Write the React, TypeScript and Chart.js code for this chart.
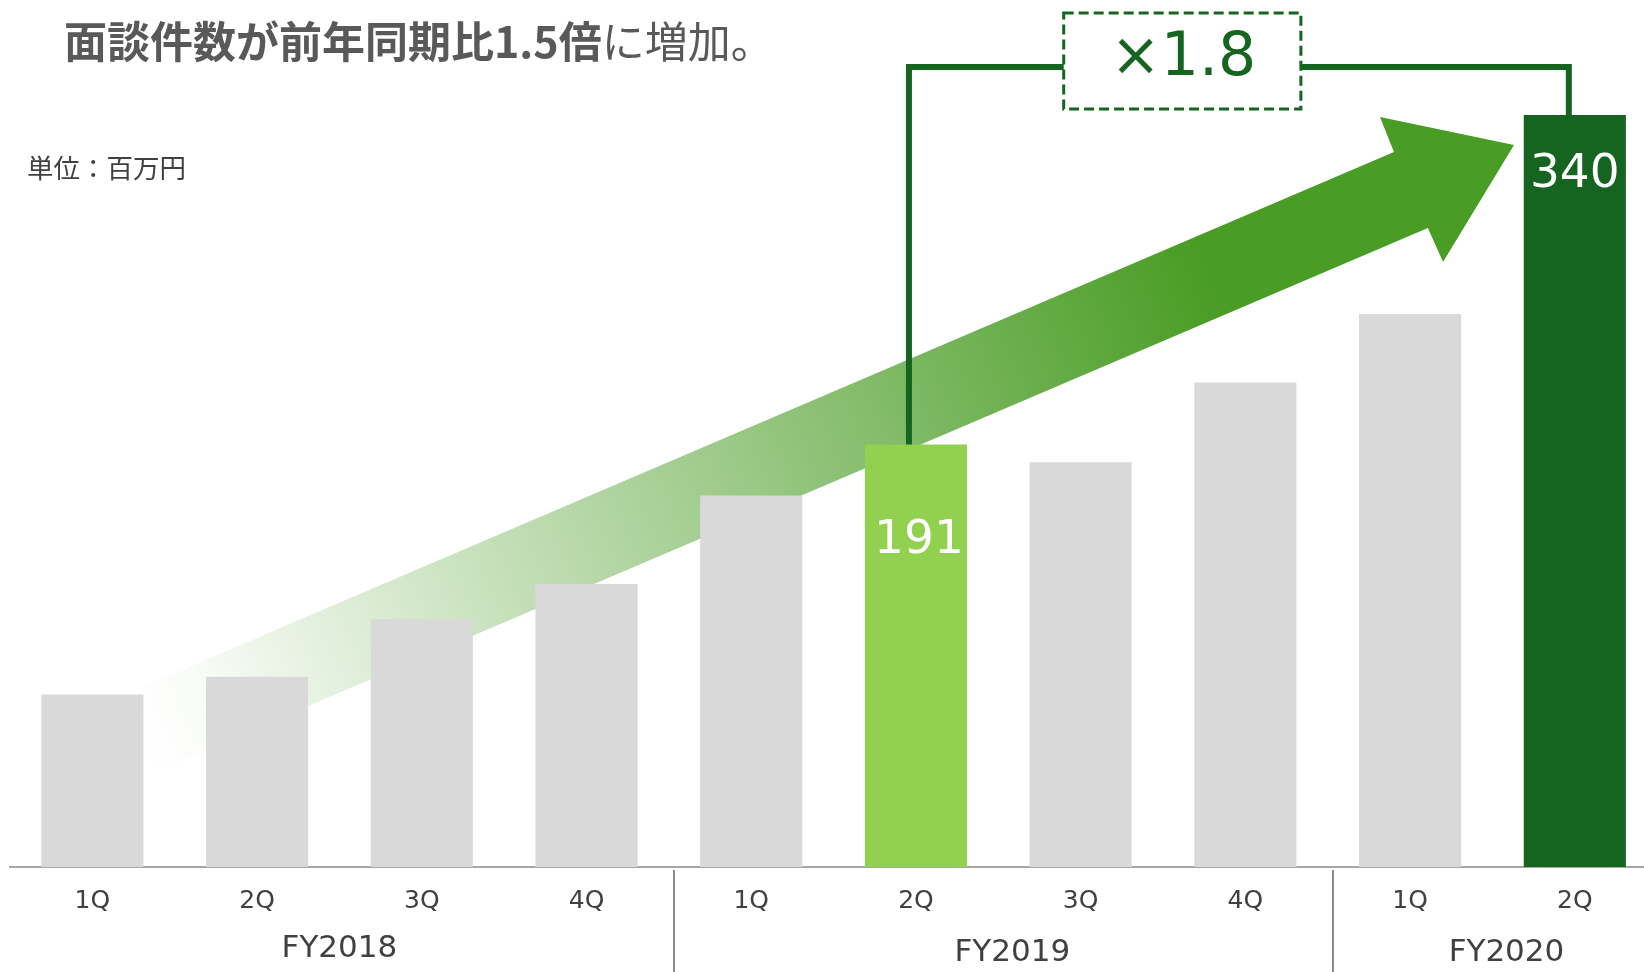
import React, { useEffect, useRef } from "react";
import { Chart, registerables } from "chart.js";

Chart.register(...registerables);

// ---- data ----
const quarters = ["1Q", "2Q", "3Q", "4Q", "1Q", "2Q", "3Q", "4Q", "1Q", "2Q"];
const fiscalYears = ["FY2018", "FY2019", "FY2020"];
const quartersPerYear = [4, 4, 2];
const values = [78, 86, 112, 128, 168, 191, 183, 219, 250, 340];
const compareFromIndex = 5; // FY2019 2Q
const compareToIndex = 9; // FY2020 2Q
const multiplierLabel = "×1.8";
const titleBold = "面談件数が前年同期比1.5倍";
const titleRest = "に増加。";
const unitLabel = "単位：百万円";

// ---- styles ----
const GREY = "#d9d9d9";
const LIGHT_GREEN = "#92d050";
const DARK_GREEN = "#156520";
const ARROW_RGB = "73,156,36";
const TEXT = "#404040";
const NUM_FONT = "'DejaVu Sans', Verdana, sans-serif";

// arrow outline in (x value, y value) space
const arrowShape: [number, number][] = [
  [0.259, 80.0],
  [7.902, 323.3],
  [7.817, 339.1],
  [8.631, 326.4],
  [8.2, 273.5],
  [8.108, 288.9],
  [0.259, 39.3],
];
const connectorLevel = 361.7;
const boxX: [number, number] = [5.897, 7.337];
const boxY: [number, number] = [342.7, 386.1];

const barColors = values.map((_, i) =>
  i === compareToIndex ? DARK_GREEN : i === compareFromIndex ? LIGHT_GREEN : GREY
);

const overlayPlugin = {
  id: "overlay",
  beforeDatasetsDraw(chart: any) {
    const { ctx } = chart;
    const xs = chart.scales.x;
    const ys = chart.scales.y;
    const pts = arrowShape.map(([vx, vy]) => [xs.getPixelForValue(vx), ys.getPixelForValue(vy)]);
    const tail = [(pts[0][0] + pts[6][0]) / 2, (pts[0][1] + pts[6][1]) / 2];
    const tip = pts[3];
    ctx.save();
    const g = ctx.createLinearGradient(tail[0], tail[1], tip[0], tip[1]);
    g.addColorStop(0, `rgba(${ARROW_RGB},0)`);
    g.addColorStop(0.05, `rgba(${ARROW_RGB},0.03)`);
    g.addColorStop(0.78, `rgba(${ARROW_RGB},1)`);
    g.addColorStop(1, `rgba(${ARROW_RGB},1)`);
    ctx.fillStyle = g;
    ctx.beginPath();
    pts.forEach(([px, py], i) => (i === 0 ? ctx.moveTo(px, py) : ctx.lineTo(px, py)));
    ctx.closePath();
    ctx.fill();
    ctx.restore();
  },
  afterDatasetsDraw(chart: any) {
    const { ctx } = chart;
    const xs = chart.scales.x;
    const ys = chart.scales.y;
    const c1 = xs.getPixelForValue(compareFromIndex);
    const c2 = xs.getPixelForValue(compareToIndex);
    const x1 = c1 - 7;
    const x2 = c2 - 6;
    const y1 = ys.getPixelForValue(values[compareFromIndex]);
    const y2 = ys.getPixelForValue(values[compareToIndex]);
    const yl = ys.getPixelForValue(connectorLevel);
    const bx0 = xs.getPixelForValue(boxX[0]);
    const bx1 = xs.getPixelForValue(boxX[1]);
    const by0 = ys.getPixelForValue(boxY[1]);
    const by1 = ys.getPixelForValue(boxY[0]);
    ctx.save();
    ctx.strokeStyle = DARK_GREEN;
    ctx.lineWidth = 6;
    ctx.lineJoin = "miter";
    ctx.beginPath();
    ctx.moveTo(x1, y1);
    ctx.lineTo(x1, yl);
    ctx.lineTo(bx0, yl);
    ctx.stroke();
    ctx.beginPath();
    ctx.moveTo(bx1, yl);
    ctx.lineTo(x2, yl);
    ctx.lineTo(x2, y2);
    ctx.stroke();
    // dashed box
    ctx.lineWidth = 3;
    ctx.setLineDash([10, 5]);
    ctx.strokeRect(bx0, by0, bx1 - bx0, by1 - by0);
    ctx.setLineDash([]);
    ctx.fillStyle = DARK_GREEN;
    ctx.font = `60px ${NUM_FONT}`;
    ctx.textAlign = "center";
    ctx.textBaseline = "middle";
    ctx.fillText(multiplierLabel, (bx0 + bx1) / 2 + 1, (by0 + by1) / 2 - 2);
    // value labels
    ctx.fillStyle = "#ffffff";
    ctx.font = `47px ${NUM_FONT}`;
    ctx.fillText(String(values[compareFromIndex]), c1 + 3, y1 + 96);
    ctx.fillText(String(values[compareToIndex]), c2, y2 + 60);
    ctx.restore();
  },
  afterDraw(chart: any) {
    const { ctx } = chart;
    const xs = chart.scales.x;
    ctx.save();
    ctx.font = `31px ${NUM_FONT}`;
    ctx.fillStyle = TEXT;
    ctx.textAlign = "center";
    ctx.textBaseline = "middle";
    ctx.strokeStyle = "#8c8c8c";
    ctx.lineWidth = 2;
    let start = 0;
    fiscalYears.forEach((fy, gi) => {
      const end = start + quartersPerYear[gi] - 1;
      const cx = (xs.getPixelForValue(start) + xs.getPixelForValue(end)) / 2;
      const nudgeX = gi === 0 ? 0 : 14;
      const ty = gi === 0 ? 949 : 953;
      ctx.fillText(fy, cx + nudgeX, ty);
      if (gi < fiscalYears.length - 1) {
        const dx = Math.round(xs.getPixelForValue(end + 0.5)) + 5;
        ctx.beginPath();
        ctx.moveTo(dx, 870);
        ctx.lineTo(dx, 972);
        ctx.stroke();
      }
      start = end + 1;
    });
    ctx.restore();
  },
};

export default function App() {
  const canvasRef = useRef<HTMLCanvasElement | null>(null);

  useEffect(() => {
    if (!canvasRef.current) return;
    const chart = new Chart(canvasRef.current, {
      type: "bar",
      data: {
        datasets: [
          {
            data: values.map((v, i) => ({ x: i, y: v })),
            backgroundColor: barColors,
            borderWidth: 0,
            barPercentage: 0.62,
            categoryPercentage: 1,
          },
        ],
      },
      options: {
        animation: false,
        responsive: false,
        layout: { padding: { left: 10, right: 0, top: 115, bottom: 0 } },
        plugins: { legend: { display: false }, tooltip: { enabled: false } },
        scales: {
          x: {
            type: "linear",
            min: -0.5,
            max: 9.42,
            offset: false,
            grid: { display: false, drawTicks: false },
            border: { display: true, color: "#a6a6a6", width: 2 },
            afterBuildTicks: (axis: any) => {
              axis.ticks = quarters.map((_, i) => ({ value: i }));
            },
            afterFit: (axis: any) => {
              axis.height = 105;
            },
            ticks: {
              autoSkip: false,
              maxRotation: 0,
              padding: 19,
              color: TEXT,
              font: { family: NUM_FONT, size: 25 },
              callback: (v: any) => quarters[Number(v)] ?? "",
            },
          },
          y: {
            display: false,
            min: 0,
            max: 340,
          },
        },
      },
      plugins: [overlayPlugin],
    });
    return () => chart.destroy();
  }, []);

  return (
    <div style={{ position: "absolute", left: 0, top: 0, width: 1644, height: 972, background: "#fff" }}>
      <canvas ref={canvasRef} width={1644} height={972} style={{ width: 1644, height: 972, display: "block" }} />
      <div
        style={{
          position: "absolute",
          left: 64,
          top: 15,
          fontFamily: "'Noto Sans CJK JP', sans-serif",
          fontSize: 43,
          lineHeight: "48px",
          color: "#595959",
          whiteSpace: "nowrap",
        }}
      >
        <span style={{ fontWeight: 700 }}>{titleBold}</span>
        <span style={{ fontWeight: 400 }}>{titleRest}</span>
      </div>
      <div
        style={{
          position: "absolute",
          left: 27,
          top: 152,
          fontFamily: "'Noto Sans CJK JP', sans-serif",
          fontSize: 26.5,
          lineHeight: "30px",
          color: TEXT,
          whiteSpace: "nowrap",
        }}
      >
        {unitLabel}
      </div>
    </div>
  );
}
